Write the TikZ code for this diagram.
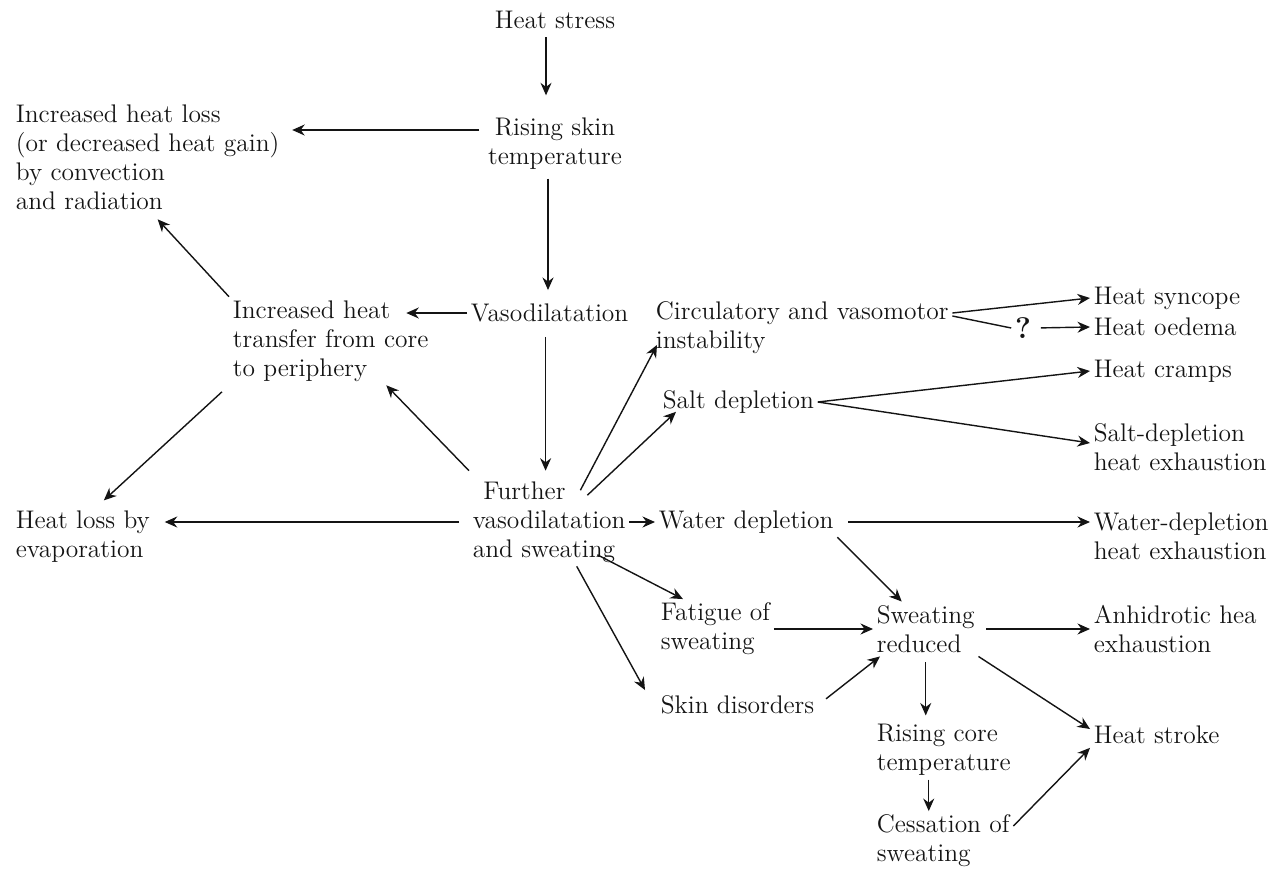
\documentclass[tikz,border=0pt]{standalone}
\usepackage{tikz}
\usetikzlibrary{arrows.meta}
\definecolor{ink}{RGB}{20,20,20}
\tikzset{
  txt/.style={inner sep=2pt, align=left, anchor=west, text=ink,
              font=\fontsize{14.5pt}{16.5pt}\selectfont},
  mid/.style={txt, anchor=center, align=center},
  flow/.style={-{Stealth[length=2.5mm,width=2.2mm]}, line width=0.8pt, color=ink},
}

\begin{document}
\begin{tikzpicture}[x=0.02cm, y=-0.02cm]
\useasboundingbox (0,0) rectangle (1281,869);
% top and left
\node[mid] (stress) at (555,20) {Heat stress};
\node[mid] (skin) at (555,144) {Rising skin\\temperature};
\node[txt] (conv) at (12,157) {Increased heat loss\\(or decreased heat gain)\\by convection\\and radiation};
\node[txt] (vaso) at (467,313) {Vasodilatation};
\node[txt] (transf) at (229,341) {Increased heat\\transfer from core\\to periphery};
\node[txt] (further) at (469,522) {\hspace*{6pt}Further\\vasodilatation\\and sweating};
\node[txt] (evap) at (12,537) {Heat loss by\\evaporation};
% middle column
\node[txt] (circ) at (652,328) {Circulatory and vasomotor\\instability};
\node[txt] (salt) at (659,402) {Salt depletion};
\node[txt] (water) at (655,522) {Water depletion};
\node[txt] (fatigue) at (657,629) {Fatigue of\\sweating};
\node[txt] (skindis) at (657,705) {Skin disorders};
\node[txt] (reduced) at (873,629) {Sweating\\reduced};
\node[txt] (core) at (873,750) {Rising core\\temperature};
\node[txt] (cess) at (873,841) {Cessation of\\sweating};
% right column
\node[txt] (syncope) at (1090,298) {Heat syncope};
\node[mid, font=\fontsize{17pt}{17pt}\selectfont] (qmark) at (1023,328) {\textbf{?}};
\node[txt] (oedema) at (1090,327) {Heat oedema};
\node[txt] (cramps) at (1090,371) {Heat cramps};
\node[txt] (saltex) at (1090,447) {Salt-depletion\\heat exhaustion};
\node[txt] (waterex) at (1090,536) {Water-depletion\\heat exhaustion};
\node[txt] (anhid) at (1090,629) {Anhidrotic hea\\exhaustion};
\node[txt] (stroke) at (1090,735) {Heat stroke};

\draw[flow, shorten <=0.09cm, shorten >=0.38cm] ([xshift=-0.18cm]stress.south) -- ([xshift=-0.18cm]stress.south |- skin.north);
\draw[flow, shorten <=0.1cm, shorten >=0.18cm] ([yshift=0.28cm]skin.west) -- ([yshift=0.28cm]skin.west -| conv.east);
\draw[flow, shorten <=0.1cm, shorten >=0.2cm] ([xshift=-0.14cm]skin.south) -- ([xshift=-0.14cm]skin.south |- vaso.north);
\draw[flow] (vaso.west) -- ([xshift=-0.52cm]vaso.west -| transf.east);
\draw[flow] (transf.north west) -- ([xshift=0.2cm,yshift=-0.12cm]conv.south);
\draw[flow] ([xshift=-0.14cm,yshift=-0.13cm]transf.south west) -- ([xshift=0.42cm,yshift=0.14cm]evap.north);
\draw[flow, shorten <=0.22cm, shorten >=0.14cm] ([xshift=-0.08cm]vaso.south) -- ([xshift=-0.08cm]vaso.south |- further.north);
\draw[flow] ([yshift=0.14cm]further.north west) -- ([xshift=-0.92cm]transf.south east);
\draw[flow, shorten <=0.2cm, shorten >=0.22cm] (further.west) -- (further.west -| evap.east);
\draw[flow] ([xshift=-0.98cm,yshift=-0.25cm]further.north east) -- ([xshift=0.1cm,yshift=0.26cm]circ.south west);
\draw[flow] ([xshift=-0.84cm,yshift=-0.35cm]further.north east) -- ([xshift=0.34cm,yshift=0.11cm]salt.south west);
\draw[flow] (further.east) -- (water.west);
\draw[flow, shorten <=0.22cm] (water.east) -- (water.east -| waterex.west);
\draw[flow] (water.south east) -- ([xshift=-0.48cm]reduced.north);
\draw[flow] ([xshift=-0.64cm,yshift=0.23cm]further.south east) -- ([xshift=0.52cm]fatigue.north west);
\draw[flow] ([xshift=0.55cm]further.south) -- ([xshift=-0.24cm,yshift=0.3cm]skindis.west);
\draw[flow] (fatigue.east) -- (reduced.west);
\draw[flow, shorten <=0.2cm] (skindis.east) -- ([xshift=0.14cm]reduced.south west);
\draw[flow, shorten <=0.16cm] (reduced.east) -- (reduced.east -| anhid.west);
\draw[flow] (reduced.south east) -- ([yshift=0.12cm]stroke.west);
\draw[flow, shorten <=0.12cm, shorten >=0.1cm] (reduced.south) -- (reduced.south |- core.north);
\draw[flow] ([xshift=-0.3cm]core.south) -- ([xshift=-0.3cm]core.south |- cess.north);
\draw[flow] ([yshift=0.3cm]cess.east) -- (stroke.south west);
\draw[flow] ([yshift=0.3cm]circ.east) -- (syncope.west);
\draw[flow, -] ([yshift=0.24cm]circ.east) -- (qmark.west);
\draw[flow, shorten <=0.12cm] (qmark.east) -- (oedema.west);
\draw[flow] (salt.east) -- (cramps.west);
\draw[flow] (salt.east) -- ([yshift=0.08cm]saltex.west);
\end{tikzpicture}
\end{document}
